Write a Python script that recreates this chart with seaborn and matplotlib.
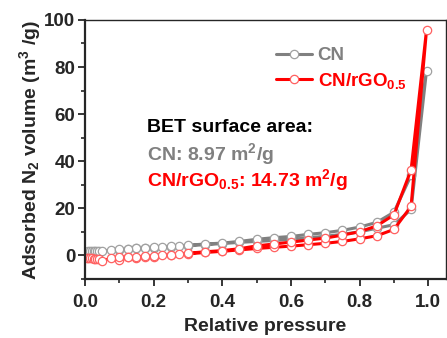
import matplotlib
matplotlib.use('Agg')
from matplotlib import pyplot as plt
from matplotlib.ticker import MultipleLocator, FormatStrFormatter
import seaborn as sns
import pandas as pd

# adsorption branch pressures, then desorption branch pressures
p_ads = [0.005, 0.01, 0.015, 0.02, 0.025, 0.03, 0.035, 0.04, 0.05, 0.075, 0.1, 0.125, 0.15,
         0.175, 0.2, 0.25, 0.3, 0.35, 0.4, 0.45, 0.5, 0.55, 0.6, 0.65, 0.7, 0.75, 0.8,
         0.85, 0.9, 0.95, 0.995]
p_des = [0.95, 0.9, 0.85, 0.8, 0.75, 0.7, 0.65, 0.6, 0.55, 0.5, 0.45, 0.4, 0.35, 0.3,
         0.275, 0.25, 0.225, 0.2, 0.175, 0.15, 0.125, 0.1]

cn_ads = [1.6, 1.7, 1.7, 1.8, 1.8, 1.8, 1.9, 1.9, 1.9, 2.1, 2.3, 2.6, 2.9,
          3.1, 3.3, 3.7, 4.1, 4.5, 5.0, 5.5, 5.9, 6.3, 6.8, 7.4, 8.1, 8.9, 10.0,
          11.5, 13.0, 19.5, 78.5]
cn_des = [34.0, 18.3, 14.0, 12.0, 10.6, 9.6, 8.9, 8.0, 7.5, 6.8, 5.9, 5.2, 4.8, 4.3,
          4.0, 3.9, 3.6, 3.5, 3.2, 3.1, 2.8, 2.5]

rgo_ads = [-1.2, -1.3, -1.3, -1.3, -1.4, -1.4, -1.4, -1.5, -2.5, -1.3, -2.1, -0.9, -1.2,
           -0.6, -0.6, 0.0, 0.6, 1.2, 1.7, 2.3, 2.9, 3.4, 3.9, 4.5, 5.1, 5.9, 7.0,
           8.3, 11.0, 20.8, 95.8]
rgo_des = [36.3, 17.2, 12.5, 10.0, 8.6, 7.3, 6.5, 5.6, 4.8, 4.0, 2.8, 2.0, 1.5, 0.9,
           0.5, 0.2, 0.2, -0.3, -0.3, -0.8, -0.7, -0.6]

labels = ['CN', 'CN/rGO$_{0.5}$']
colors = ['#808080', '#ff0000']
edge_colors = ['#a0a0a0', '#ff6060']

sns.set_style('ticks')
plt.rcParams['font.family'] = ['Liberation Sans', 'DejaVu Sans']
plt.rcParams['font.weight'] = 'bold'
plt.rcParams['mathtext.fontset'] = 'custom'
plt.rcParams['mathtext.rm'] = 'Liberation Sans:bold'
plt.rcParams['mathtext.bf'] = 'Liberation Sans:bold'
plt.rcParams['mathtext.default'] = 'bf'

fs = 14

fig = plt.figure(figsize=(4.47, 3.38), dpi=100)
ax = fig.add_axes([0.190, 0.175, 0.808, 0.766])

series = [(cn_ads, cn_des), (rgo_ads, rgo_des)]
for (ads, des), lab, col, ec in zip(series, labels, colors, edge_colors):
    df = pd.DataFrame({'p': p_ads + p_des, 'v': ads + des})
    sns.lineplot(data=df, x='p', y='v', sort=False, estimator=None, ax=ax,
                 color=col, lw=2.2, marker='o', markersize=6,
                 markerfacecolor='white', markeredgecolor=ec, markeredgewidth=0.9,
                 label=lab)

ax.set_xlim(0, 1.052)
ax.set_ylim(-10, 100)
ax.xaxis.set_major_locator(MultipleLocator(0.2))
ax.xaxis.set_minor_locator(MultipleLocator(0.1))
ax.xaxis.set_major_formatter(FormatStrFormatter('%.1f'))
ax.yaxis.set_major_locator(MultipleLocator(20))
ax.yaxis.set_minor_locator(MultipleLocator(10))
ax.tick_params(which='major', direction='out', length=5, width=1.3, labelsize=13.5, pad=2)
ax.tick_params(axis='x', which='major', pad=6)
ax.tick_params(which='minor', direction='out', length=3, width=1.2)
for s in ['left', 'bottom']:
    ax.spines[s].set_linewidth(1.6)
for s in ['top', 'right']:
    ax.spines[s].set_linewidth(1.0)
for t in ax.get_xticklabels() + ax.get_yticklabels():
    t.set_fontweight('bold')

ax.set_xlabel('Relative pressure', fontsize=fs, fontweight='bold', labelpad=5)
ax.set_ylabel('Adsorbed N$_2$ volume (m$^3$ /g)', fontsize=fs, fontweight='bold', labelpad=1)

leg = ax.legend(loc='center left', bbox_to_anchor=(0.53, 0.81), frameon=False,
                handlelength=1.9, handletextpad=0.3, labelspacing=0.35,
                borderpad=0, borderaxespad=0,
                labelcolor='linecolor', prop={'weight': 'bold', 'size': 13.5})

ax.text(0.172, 0.583, 'BET surface area:', transform=ax.transAxes, fontsize=fs,
        fontweight='bold', color='black', va='center')
ax.text(0.172, 0.483, 'CN: 8.97 m$^2$/g', transform=ax.transAxes, fontsize=fs,
        fontweight='bold', color='#808080', va='center')
ax.text(0.172, 0.383, 'CN/rGO$_{0.5}$: 14.73 m$^2$/g', transform=ax.transAxes, fontsize=fs,
        fontweight='bold', color='#ff0000', va='center')

fig.savefig('out.png', dpi=100)
